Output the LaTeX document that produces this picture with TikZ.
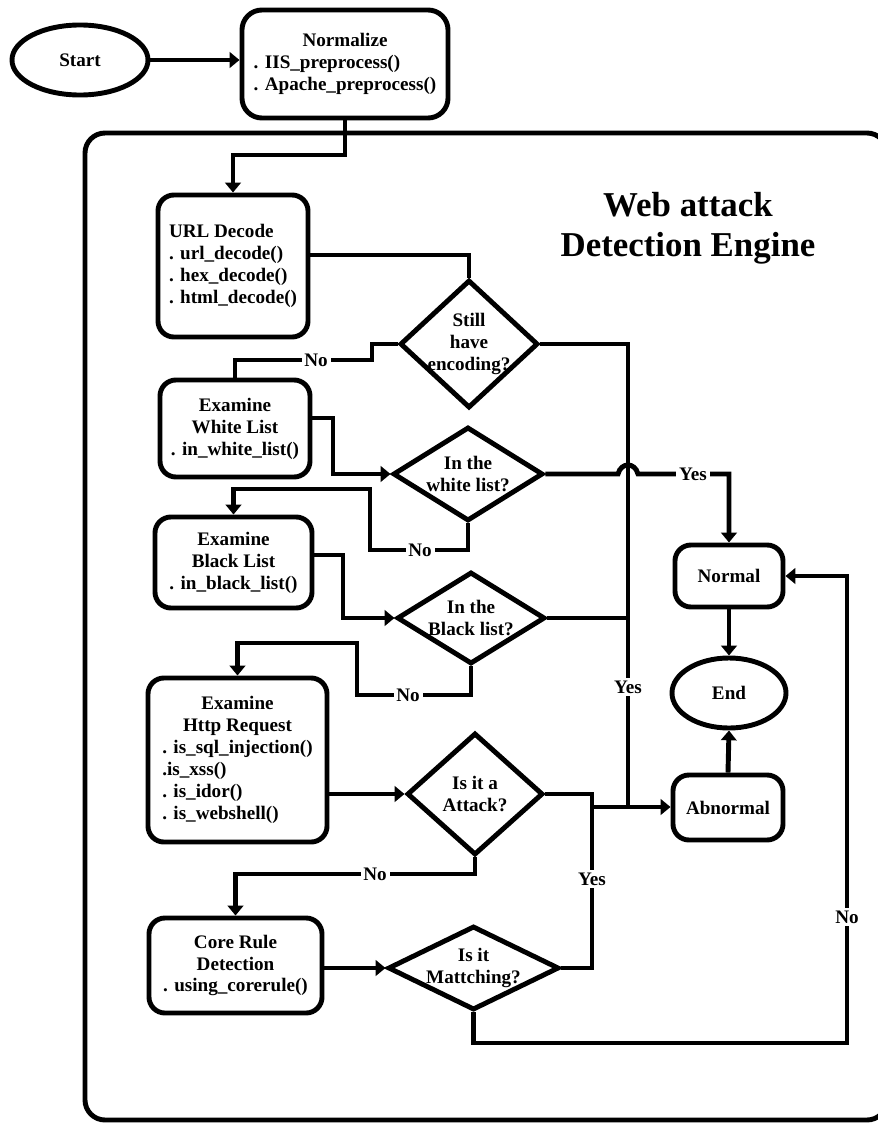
\documentclass[tikz,border=0pt]{standalone}
\usepackage{fontspec}
\setmainfont{Liberation Serif}
\usepackage{tikz}
\usetikzlibrary{arrows.meta,backgrounds}
\usepgflibrary{shapes}
\newcommand{\ctr}[1]{\multicolumn{1}{@{}c@{}}{#1}}

\begin{document}
\begin{tikzpicture}[x=0.025cm, y=-0.025cm, line width=3.5pt,
    txt/.style={font=\fontsize{13.6}{15.6}\selectfont\bfseries},
    blk/.style={txt, draw, rounded corners=0.4cm, inner sep=0pt},
    dia/.style={txt, draw, diamond, inner sep=-5pt, align=center},
    oval/.style={txt, draw, ellipse, inner sep=0pt},
    lbl/.style={txt, fill=white, inner sep=2pt},
    arr/.style={-{Triangle[length=7pt,width=11pt]}}]
      \useasboundingbox (0,0) rectangle (878,1124);
      \clip (0,0) rectangle (878,1124);
      \draw[rounded corners=0.5cm] (85,133) rectangle (887,1120);
      \node[name=title, font=\fontsize{24.8}{28.5}\selectfont\bfseries, align=center] at (688,228) {Web attack\\Detection Engine};

      \node[name=start, oval, minimum width=3.4cm, minimum height=1.75cm] at (80,60) {Start};
      \node[name=norm, blk, rounded corners=0.5cm, minimum width=5.15cm, minimum height=2.7cm] at (345,64)
         {\begin{tabular}{@{}l@{}}\ctr{Normalize}\\. IIS\_preprocess()\\. Apache\_preprocess()\end{tabular}};
      \node[name=urldec, blk, align=left, minimum width=3.75cm, minimum height=3.55cm] at (233,266)
         {URL Decode\\. url\_decode()\\. hex\_decode()\\. html\_decode()};
      \node[name=still, dia, shape aspect=1.08, minimum width=3.45cm, minimum height=3.2cm] at (469,344) {Still\\have\\encoding?};
      \node[name=white, blk, align=center, minimum width=3.75cm, minimum height=2.425cm] at (235,428.5)
         {Examine\\White List\\. in\_white\_list()};
      \node[name=inwhite, dia, shape aspect=1.6, minimum width=3.75cm, minimum height=2.35cm] at (468,474) {In the\\white list?};
      \node[name=black, blk, align=center, minimum width=3.925cm, minimum height=2.275cm] at (233.5,562.5)
         {Examine\\Black List\\. in\_black\_list()};
      \node[name=inblack, dia, shape aspect=1.6, minimum width=3.7cm, minimum height=2.3cm] at (471,618) {In the\\Black list?};
      \node[name=http, blk, minimum width=4.475cm, minimum height=4.1cm] at (237.5,760)
         {\begin{tabular}{@{}l@{}}\ctr{Examine}\\\ctr{Http Request}\\. is\_sql\_injection()\\.is\_xss()\\. is\_idor()\\. is\_webshell()\end{tabular}};
      \node[name=attack, dia, shape aspect=1.1, minimum width=3.4cm, minimum height=3.05cm] at (475,794) {Is it a\\Attack?};
      \node[name=core, blk, align=center, minimum width=4.325cm, minimum height=2.375cm] at (235.5,965.5)
         {Core Rule\\Detection\\. using\_corerule()};
      \node[name=match, dia, shape aspect=2, minimum width=4.275cm, minimum height=2.1cm] at (473.5,968) {Is it\\Mattching?};
      \node[name=normal, blk, minimum width=2.7cm, minimum height=1.55cm] at (729,576) {Normal};
      \node[name=endn, oval, minimum width=2.85cm, minimum height=1.75cm] at (729,693) {End};
      \node[name=abn, blk, minimum width=2.75cm, minimum height=1.625cm] at (728,807.5) {Abnormal};

      \coordinate (ja) at (628,807);
      \coordinate (jb) at (592,807);

      \draw[arr] (start.east) -- (start.east -| norm.west);
      \draw[arr] (norm.south) |- (urldec.north |- 0,155) -- (urldec.north);
      \draw (urldec.east |- 0,255) -| (still.north);
      \draw (still.west) -- (372,344) |- (white.north |- 0,360) -- (white.north);
      \draw (still.east) -| (ja);
      \draw[arr] (white.east |- 0,418) -| (333,474) -- (inwhite.west);
      \draw[arr] (inwhite.east) -- (618,474) .. controls (621,462) and (635,462) .. (638,474) -| (normal.north);
      \draw[arr] (inwhite.south) |- (370,550) |- (black.north |- 0,489) -- (black.north);
      \draw[arr] (black.east |- 0,555) -| (343,618) -- (inblack.west);
      \draw (inblack.east) -- (inblack.east -| ja);
      \draw[arr] (inblack.south) |- (357,695) |- (http.north |- 0,643) -- (http.north);
      \draw[arr] (http.east |- attack.west) -- (attack.west);
      \draw (attack.east) -| (jb |- match.east) -- (match.east);
      \draw[arr] (jb) -- (jb -| abn.west);
      \draw[arr] (attack.south) |- (core.north |- 0,874) -- (core.north);
      \draw[arr] (core.east |- match.west) -- (match.west);
      \draw[arr] (match.south) |- (847,1043) |- (normal.east);
      \draw[arr] (normal.south) -- (endn.north);
      \draw[arr] (abn.north) -- (endn.south);

      \node[name=lno1, lbl] at (316,360) {No};
      \node[name=lyes1, lbl] at (693,474) {Yes};
      \node[name=lno2, lbl] at (420,550) {No};
      \node[name=lno3, lbl] at (408,695) {No};
      \node[name=lyes2, lbl] at (628,687) {Yes};
      \node[name=lno4, lbl] at (375,874) {No};
      \node[name=lyes3, lbl] at (592,879) {Yes};
      \node[name=lno5, lbl] at (847,917) {No};
\end{tikzpicture}
\end{document}
